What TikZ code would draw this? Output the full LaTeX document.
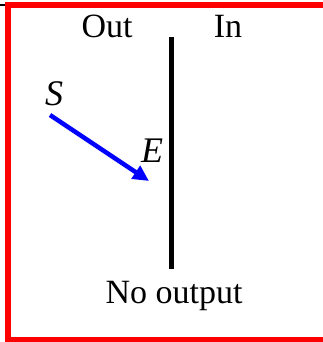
\documentclass[tikz,border=0pt]{standalone}
\usepackage{fontspec}
\setmainfont{Liberation Serif}
\usetikzlibrary{arrows.meta}

\begin{document}
\begin{tikzpicture}[
  x=1pt, y=-1pt,
  lbl/.style={inner sep=0pt, anchor=base, font=\fontsize{34}{40}\selectfont},
  var/.style={lbl, font=\fontsize{36}{42}\selectfont\itshape},
  wall/.style={line width=5pt},
  move/.style={-{Triangle[length=16pt, width=15pt]}, blue, line width=4.5pt},
  frame/.style={red, line width=6pt},
]
  \useasboundingbox (0,0) rectangle (323,342);
  \draw[line width=2pt] (0,5) -- (5,5);
  \draw[frame] (330,5) -- (8,5) -- (8,340) -- (330,340);

  \node[lbl] (out) at (107,38) {Out};
  \node[lbl] (in) at (228,38) {In};
  \node[var] (s) at (54,106) {S};
  \node[var] (e) at (152,162) {E};
  \node[lbl] (none) at (174,303) {No output};

  \coordinate (wtop) at (171,37);
  \coordinate (wbot) at (171,269);
  \coordinate (s0) at (50,115);
  \coordinate (e0) at (149,181);

  \draw[wall] (wtop) -- (wbot);
  \draw[move] (s0) -- (e0);
\end{tikzpicture}
\end{document}
